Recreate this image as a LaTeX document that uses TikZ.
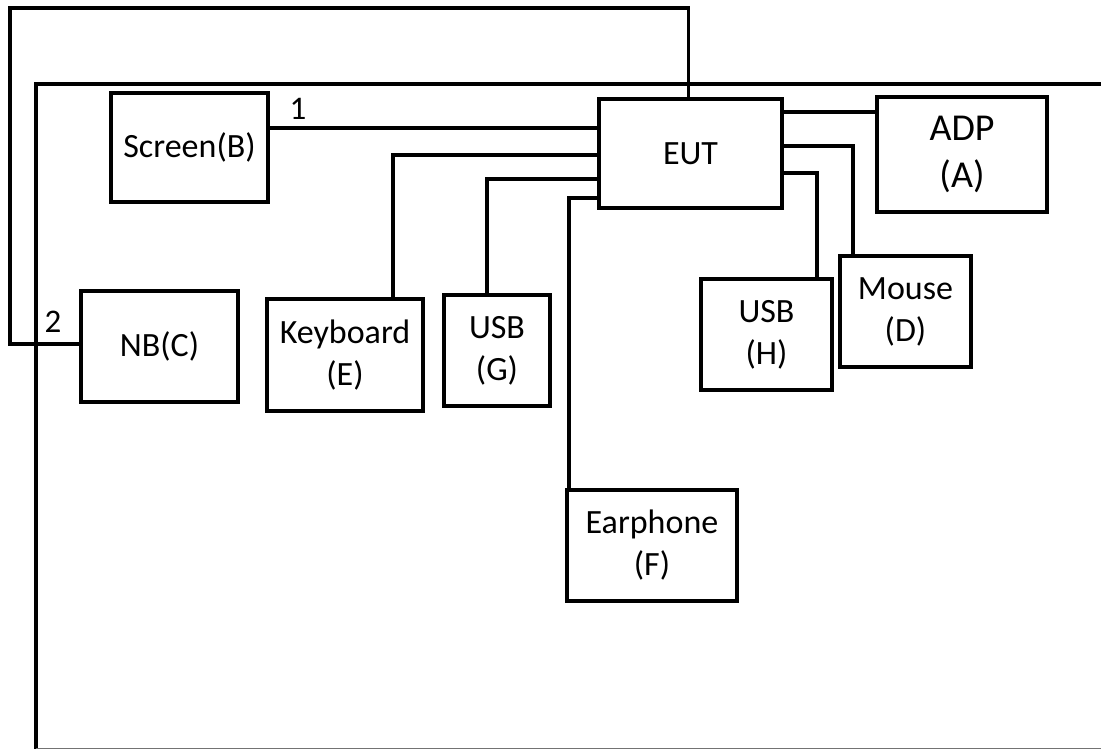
\documentclass[tikz,border=0pt]{standalone}
\usepackage{fontspec}
\setmainfont{Carlito}
\begin{document}
\begin{tikzpicture}[x=1pt,y=-1pt,
  box/.style={draw, line width=3.2pt, inner sep=0pt, align=center,
    font=\fontsize{34}{42}\selectfont},
  wire/.style={line width=3.2pt},
  lbl/.style={font=\fontsize{33}{38}\selectfont, inner sep=0pt}]
\useasboundingbox (0,0) rectangle (1101,749);
% frame
\draw[wire] (1110,84) -- (36,84) -- (36,760);
\draw[black!55, line width=1pt] (36,748) -- (1110,748);
% boxes
\node[box, minimum width=157pt, minimum height=109pt] (scr) at (189.5,147.5) {Screen(B)};
\node[box, minimum width=183pt, minimum height=109pt] (eut) at (690.5,153.5) {EUT};
\node[box, minimum width=170pt, minimum height=115pt, font=\fontsize{38}{47}\selectfont] (adp) at (962,154.5) {ADP\\(A)};
\node[box, minimum width=157pt, minimum height=111pt] (nb) at (159.5,346.5) {NB(C)};
\node[box, minimum width=156pt, minimum height=112pt] (kb) at (345,355) {Keyboard\\(E)};
\node[box, minimum width=106pt, minimum height=111pt] (usbg) at (497,350.5) {USB\\(G)};
\node[box, minimum width=131pt, minimum height=111pt] (usbh) at (766.5,334.5) {USB\\(H)};
\node[box, minimum width=131pt, minimum height=111pt] (mouse) at (905.5,311.5) {Mouse\\(D)};
\node[box, minimum width=170pt, minimum height=111pt] (ear) at (652,545.5) {Earphone\\(F)};
% helper coordinates
\coordinate (y1) at (0,128);
\coordinate (yA) at (0,112);
\coordinate (yD) at (0,146);
\coordinate (yH) at (0,173);
\coordinate (yE) at (0,155);
\coordinate (yG) at (0,179);
\coordinate (yF) at (0,198);
\coordinate (xD) at (853,0);
\coordinate (xH) at (817,0);
\coordinate (xE) at (393,0);
\coordinate (xG) at (487,0);
\coordinate (xF) at (569,0);
\coordinate (top) at (0,8);
\coordinate (left) at (10,0);
\coordinate (yC) at (0,344);
% connectors
\draw[wire] (scr.east |- y1) -- (eut.west |- y1);
\draw[wire] (eut.east |- yA) -- (adp.west |- yA);
\draw[wire] (eut.east |- yD) -- (xD |- yD) -- (xD |- mouse.north);
\draw[wire] (eut.east |- yH) -- (xH |- yH) -- (xH |- usbh.north);
\draw[wire] (eut.west |- yE) -- (xE |- yE) -- (xE |- kb.north);
\draw[wire] (eut.west |- yG) -- (xG |- yG) -- (xG |- usbg.north);
\draw[wire] (eut.west |- yF) -- (xF |- yF) -- (xF |- ear.north);
\draw[wire] ([xshift=-2pt]eut.north) -- ([xshift=-2pt]eut.north |- top) -- (left |- top) -- (left |- yC) -- (nb.west |- yC);
% labels
\node[lbl] (l1) at (298,109) {1};
\node[lbl] (l2) at (53,322) {2};
\end{tikzpicture}
\end{document}
